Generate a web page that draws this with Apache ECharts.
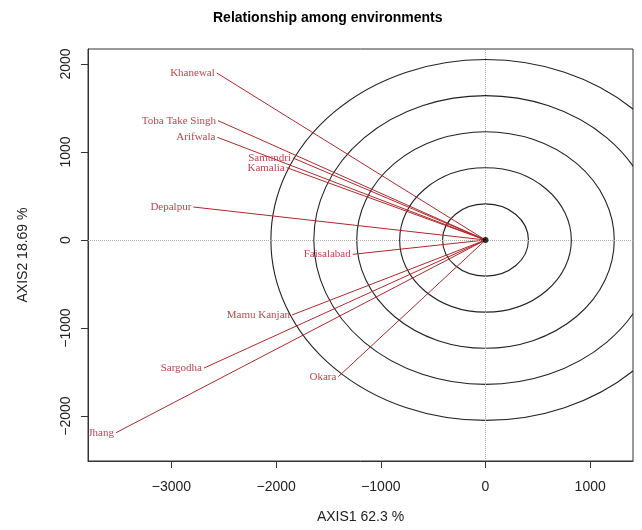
<!DOCTYPE html>
<html>
<head>
<meta charset="utf-8">
<script src="https://cdn.jsdelivr.net/npm/echarts@6/dist/echarts.min.js"></script>
<style>
  html, body { margin: 0; padding: 0; background: #fff; }
  #chart { width: 642px; height: 530px; }
</style>
</head>
<body>
<div id="chart"></div>
<script>
// environment vectors (end points)
const envNames = ['Khanewal', 'Toba Take Singh', 'Arifwala', 'Samundri', 'Kamalia', 'Depalpur',
  'Faisalabad', 'Mamu Kanjan', 'Sargodha', 'Jhang', 'Okara']
const axis1Values = [-2567, -2555, -2561, -1839, -1899, -2791, -1268, -1848, -2689, -3530, -1406]
const axis2Values = [1898, 1356, 1167, 932, 822, 375, -163, -852, -1455, -2190, -1553]

// concentric circles round the origin
const circleRadii = [410, 820, 1230, 1640, 2050]

// tick labels
const xTicks = [-3000, -2000, -1000, 0, 1000]
const yTicks = [-2000, -1000, 0, 1000, 2000]

const chart = echarts.init(document.getElementById('chart'))

const minusSign = v => String(v).replace('-', '\u2212')
const axisFont = 'Liberation Sans'

const vectorData = envNames.map((name, i) => [axis1Values[i], axis2Values[i], name])
const circleData = circleRadii.map(r => [r, 0])

const option = {
  animation: false,
  title: {
    text: 'Relationship among environments',
    left: 208,
    top: 6,
    textStyle: { fontFamily: axisFont, fontSize: 14, fontWeight: 'bold', color: '#000' }
  },
  grid: {
    left: 88,
    right: 9,
    top: 49,
    bottom: 69,
    show: true,
    borderColor: '#333',
    borderWidth: 1
  },
  xAxis: {
    type: 'value',
    min: -3797,
    max: 1409,
    name: 'AXIS1 62.3 %',
    nameLocation: 'middle',
    nameGap: 49,
    nameTextStyle: { fontFamily: axisFont, fontSize: 14, color: '#222' },
    axisLine: { show: true, onZero: false, lineStyle: { color: '#333' } },
    axisTick: { show: true, inside: false, length: 7, customValues: xTicks, lineStyle: { color: '#333' } },
    axisLabel: {
      customValues: xTicks,
      formatter: minusSign,
      margin: 19,
      fontFamily: axisFont,
      fontSize: 14,
      color: '#222'
    },
    splitLine: { show: false }
  },
  yAxis: {
    type: 'value',
    min: -2511,
    max: 2170,
    name: 'AXIS2 18.69 %',
    nameLocation: 'middle',
    nameGap: 58,
    nameTextStyle: { fontFamily: axisFont, fontSize: 14, color: '#222' },
    axisLine: { show: true, onZero: false, lineStyle: { color: '#333' } },
    axisTick: { show: true, inside: false, length: 7, customValues: yTicks, lineStyle: { color: '#333' } },
    axisLabel: {
      customValues: yTicks,
      formatter: minusSign,
      rotate: 90,
      margin: 15,
      fontFamily: axisFont,
      fontSize: 14,
      color: '#222'
    },
    splitLine: { show: false }
  },
  series: [
    {
      // circles, drawn as ellipses because the two axes use different scales
      type: 'custom',
      clip: true,
      silent: true,
      data: circleData,
      renderItem: (params, api) => {
        const c = api.coord([0, 0])
        const s = api.size([api.value(0), api.value(0)])
        const rx = s[0]
        const ry = s[1]
        const d = `M${c[0] - rx},${c[1]} A${rx},${ry} 0 1 0 ${c[0] + rx},${c[1]} ` +
          `A${rx},${ry} 0 1 0 ${c[0] - rx},${c[1]} Z`
        return {
          type: 'path',
          shape: { pathData: d },
          style: { fill: 'none', stroke: '#222', lineWidth: 1.1 }
        }
      }
    },
    {
      // centre point + dotted zero lines
      type: 'scatter',
      data: [[0, 0]],
      symbolSize: 6,
      itemStyle: { color: '#000' },
      silent: true,
      z: 5,
      markLine: {
        silent: true,
        symbol: 'none',
        label: { show: false },
        lineStyle: { color: '#aaa', type: 'dotted', width: 1 },
        data: [{ xAxis: 0 }, { yAxis: 0 }]
      }
    },
    {
      // environment vectors with their labels
      type: 'custom',
      clip: true,
      silent: true,
      data: vectorData,
      encode: { x: 0, y: 1 },
      z: 3,
      renderItem: (params, api) => {
        const o = api.coord([0, 0])
        const p = api.coord([api.value(0), api.value(1)])
        return {
          type: 'group',
          children: [
            {
              type: 'line',
              shape: { x1: o[0], y1: o[1], x2: p[0], y2: p[1] },
              style: { stroke: '#b0282a', lineWidth: 1 }
            },
            {
              type: 'text',
              x: p[0] - 2,
              y: p[1],
              style: {
                text: envNames[params.dataIndex],
                align: 'right',
                verticalAlign: 'middle',
                fill: '#c04650',
                font: '11px "Liberation Serif"'
              }
            }
          ]
        }
      }
    }
  ]
}

chart.setOption(option)
</script>
</body>
</html>
